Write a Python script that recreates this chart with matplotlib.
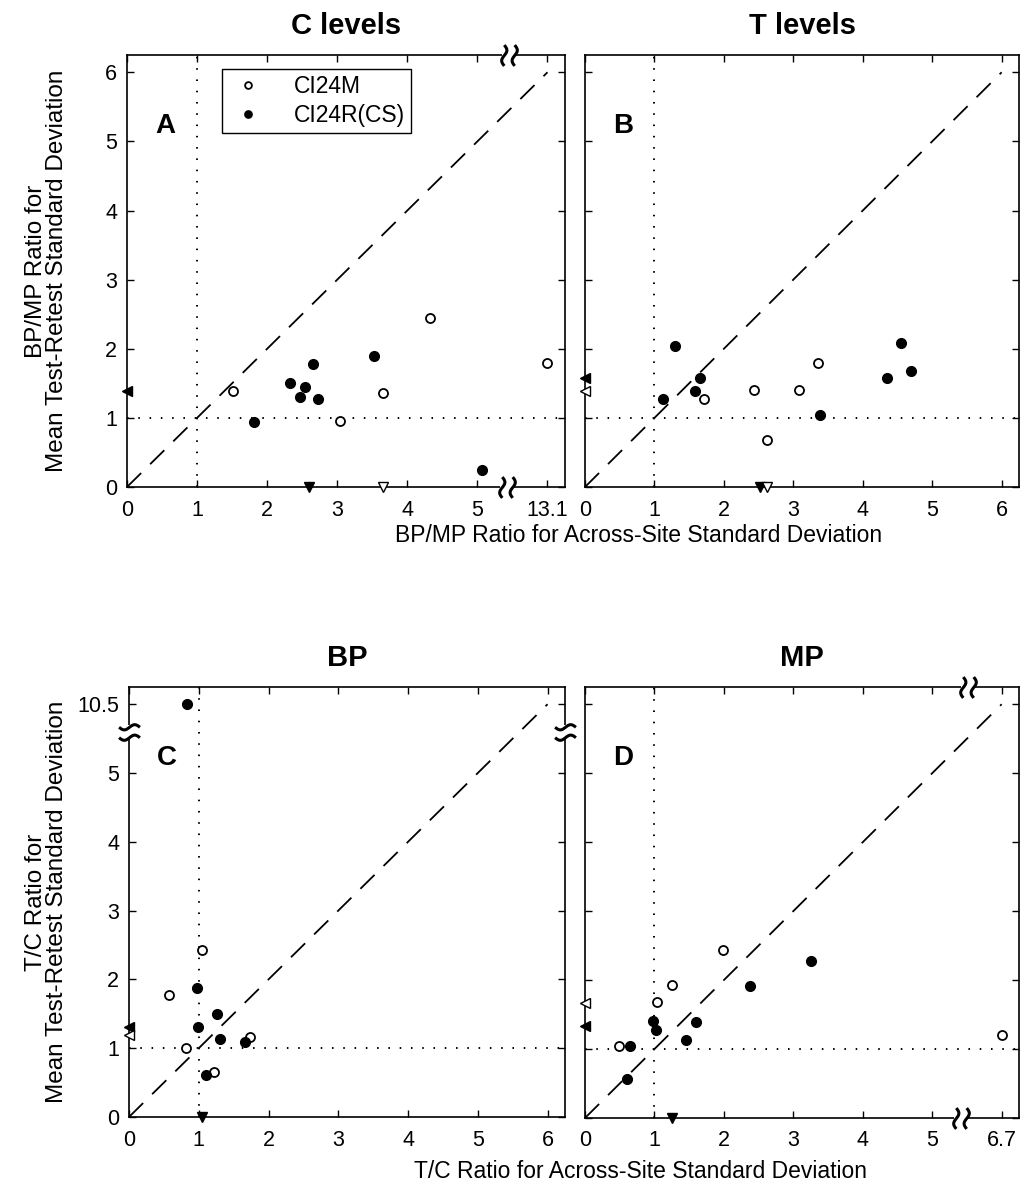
import numpy as np
import matplotlib.pyplot as plt
from matplotlib.path import Path

plt.rcParams['font.family'] = ['Liberation Sans', 'DejaVu Sans']

# ---- data (values beyond the axis break are drawn at the break position 6) ----
# panel A: C levels, BP/MP ratios
a_open_x = [1.51, 4.32, 6.0, 3.65, 3.04]
a_open_y = [1.39, 2.45, 1.80, 1.36, 0.95]
a_fill_x = [1.81, 2.33, 2.54, 2.47, 2.66, 2.72, 3.53, 5.06]
a_fill_y = [0.94, 1.50, 1.44, 1.30, 1.78, 1.28, 1.90, 0.24]
a_left_fill = [1.39]
a_left_open = []
a_bot_fill = [2.60]
a_bot_open = [3.66]

# panel B: T levels, BP/MP ratios
b_open_x = [1.71, 2.43, 2.62, 3.08, 3.35]
b_open_y = [1.27, 1.40, 0.68, 1.41, 1.79]
b_fill_x = [1.29, 1.12, 1.58, 1.65, 3.39, 4.35, 4.55, 4.69]
b_fill_y = [2.04, 1.27, 1.39, 1.57, 1.04, 1.57, 2.08, 1.68]
b_left_fill = [1.57]
b_left_open = [1.39]
b_bot_fill = [2.52]
b_bot_open = [2.62]

# panel C: BP, T/C ratios
c_open_x = [1.04, 0.58, 0.81, 1.74, 1.22]
c_open_y = [2.43, 1.78, 1.01, 1.17, 0.66]
c_fill_x = [0.83, 0.98, 0.99, 1.26, 1.30, 1.67, 1.11]
c_fill_y = [6.0, 1.88, 1.31, 1.49, 1.13, 1.09, 0.61]
c_left_fill = [1.31]
c_left_open = [1.19]
c_bot_fill = [1.05]
c_bot_open = []

# panel D: MP, T/C ratios
d_open_x = [0.49, 1.03, 1.26, 1.99, 6.0]
d_open_y = [1.04, 1.68, 1.93, 2.44, 1.20]
d_fill_x = [0.65, 0.60, 0.98, 1.02, 1.46, 1.60, 2.37, 3.25]
d_fill_y = [1.04, 0.57, 1.40, 1.27, 1.13, 1.39, 1.92, 2.28]
d_left_fill = [1.33]
d_left_open = [1.67]
d_bot_fill = [1.25]
d_bot_open = []

ticks = [0, 1, 2, 3, 4, 5, 6]
labels_plain = ['0', '1', '2', '3', '4', '5', '6']
a_xlabels = ['0', '1', '2', '3', '4', '5', '13.1']
c_ylabels = ['0', '1', '2', '3', '4', '5', '10.5']
d_xlabels = ['0', '1', '2', '3', '4', '5', '6.7']

W, H = 1021, 1194
fig = plt.figure(figsize=(W / 100, H / 100), dpi=100)

# axis-break squiggle markers (two S curves) and the white gap behind them
t = np.linspace(-1, 1, 30)
wig = 0.25 * np.sin(np.pi * t)
sq_v = np.concatenate([np.c_[-0.5 + wig, t], np.c_[0.5 + wig, t]])
sq_codes = ([Path.MOVETO] + [Path.LINETO] * 29) * 2
squig_h = Path(sq_v, sq_codes)              # for a horizontal axis line
squig_v = Path(sq_v[:, ::-1], sq_codes)     # for a vertical axis line
gap_h = Path([(-1, -0.25), (1, -0.25), (1, 0.25), (-1, 0.25), (-1, -0.25)])
gap_v = Path([(-0.25, -1), (-0.25, 1), (0.25, 1), (0.25, -1), (-0.25, -1)])


def px_axes(l, t_, r, b):
    return fig.add_axes([l / W, 1 - b / H, (r - l) / W, (b - t_) / H])


def brk(ax, x, y, horiz=True):
    g, s = (gap_h, squig_h) if horiz else (gap_v, squig_v)
    ax.plot([x], [y], marker=g, ms=10, mfc='white', mec='white', mew=0,
            ls='none', clip_on=False, zorder=6)
    ax.plot([x], [y], marker=s, ms=15, mfc='none', mec='black', mew=2.2,
            ls='none', clip_on=False, zorder=7)


def panel(ax, ox, oy, fx, fy, lf, lo, bf, bo, xl, yl, letter, title):
    ax.set_xlim(0, 6.25)
    ax.set_ylim(0, 6.25)
    ax.plot([0, 6], [0, 6], color='black', lw=1.3, dashes=(11, 7))
    ax.axvline(1, color='black', lw=1.4, dashes=(0.8, 5))
    ax.axhline(1, color='black', lw=1.4, dashes=(0.8, 5))
    ax.plot(ox, oy, 'o', mfc='white', mec='black', ms=6.5, mew=1.3, ls='none', label='CI24M')
    ax.plot(fx, fy, 'o', mfc='black', mec='black', ms=7, ls='none', label='CI24R(CS)')
    ax.plot([0] * len(lf), lf, '<', color='black', ms=7, ls='none', clip_on=False, zorder=5)
    ax.plot([0] * len(lo), lo, '<', mfc='white', mec='black', mew=1, ms=7, ls='none', clip_on=False, zorder=5)
    ax.plot(bf, [0] * len(bf), 'v', color='black', ms=7, ls='none', clip_on=False, zorder=5)
    ax.plot(bo, [0] * len(bo), 'v', mfc='white', mec='black', mew=1, ms=7, ls='none', clip_on=False, zorder=5)
    ax.set_xticks(ticks)
    ax.set_yticks(ticks)
    ax.set_xticklabels(xl)
    if yl is None:
        ax.set_yticklabels([])
    else:
        ax.set_yticklabels(yl)
    ax.tick_params(direction='in', top=True, right=True, length=5, width=1,
                   labelsize=15.5)
    ax.tick_params(axis='x', pad=9)
    ax.tick_params(axis='y', pad=7)
    for s in ax.spines.values():
        s.set_linewidth(1.2)
    ax.text(0.55, 5.22, letter, fontsize=20, fontweight='bold', ha='center', va='center')
    ax.set_title(title, fontsize=21, fontweight='bold', pad=15)


axA = px_axes(127, 55, 565, 487)
panel(axA, a_open_x, a_open_y, a_fill_x, a_fill_y, a_left_fill, a_left_open,
      a_bot_fill, a_bot_open, a_xlabels, labels_plain, 'A', 'C levels')
leg = axA.legend(loc='upper left', bbox_to_anchor=(0.217, 0.968), fontsize=16.5,
                 frameon=True, fancybox=False, edgecolor='black', framealpha=1,
                 handlelength=1.8, handletextpad=1.1, borderpad=0.25, labelspacing=0.3,
                 borderaxespad=0, markerscale=0.75)
leg.get_frame().set_linewidth(1.0)
brk(axA, 5.45, 6.25)
brk(axA, 5.42, 0)

axB = px_axes(585, 55, 1019, 487)
panel(axB, b_open_x, b_open_y, b_fill_x, b_fill_y, b_left_fill, b_left_open,
      b_bot_fill, b_bot_open, labels_plain, None, 'B', 'T levels')

axC = px_axes(129, 687, 565, 1117)
panel(axC, c_open_x, c_open_y, c_fill_x, c_fill_y, c_left_fill, c_left_open,
      c_bot_fill, c_bot_open, labels_plain, c_ylabels, 'C', 'BP')
brk(axC, 0, 5.6, horiz=False)
brk(axC, 6.25, 5.6, horiz=False)

axD = px_axes(585, 687, 1019, 1118)
panel(axD, d_open_x, d_open_y, d_fill_x, d_fill_y, d_left_fill, d_left_open,
      d_bot_fill, d_bot_open, d_xlabels, None, 'D', 'MP')
brk(axD, 5.52, 6.25)
brk(axD, 5.42, 0)

# shared axis labels
for yc, first in [(271, 'BP/MP Ratio for'), (902, 'T/C Ratio for')]:
    fig.text(42 / W, 1 - yc / H, first, rotation=90, rotation_mode='anchor',
             ha='center', va='baseline', fontsize=17.5)
    fig.text(63 / W, 1 - yc / H, 'Mean Test-Retest Standard Deviation', rotation=90,
             rotation_mode='anchor', ha='center', va='baseline', fontsize=17.5)
fig.text(639 / W, 1 - 536 / H, 'BP/MP Ratio for Across-Site Standard Deviation',
         ha='center', va='center', fontsize=16.5)
fig.text(640 / W, 1 - 1172 / H, 'T/C Ratio for Across-Site Standard Deviation',
         ha='center', va='center', fontsize=16.5)

fig.savefig('out.png', dpi=100)
